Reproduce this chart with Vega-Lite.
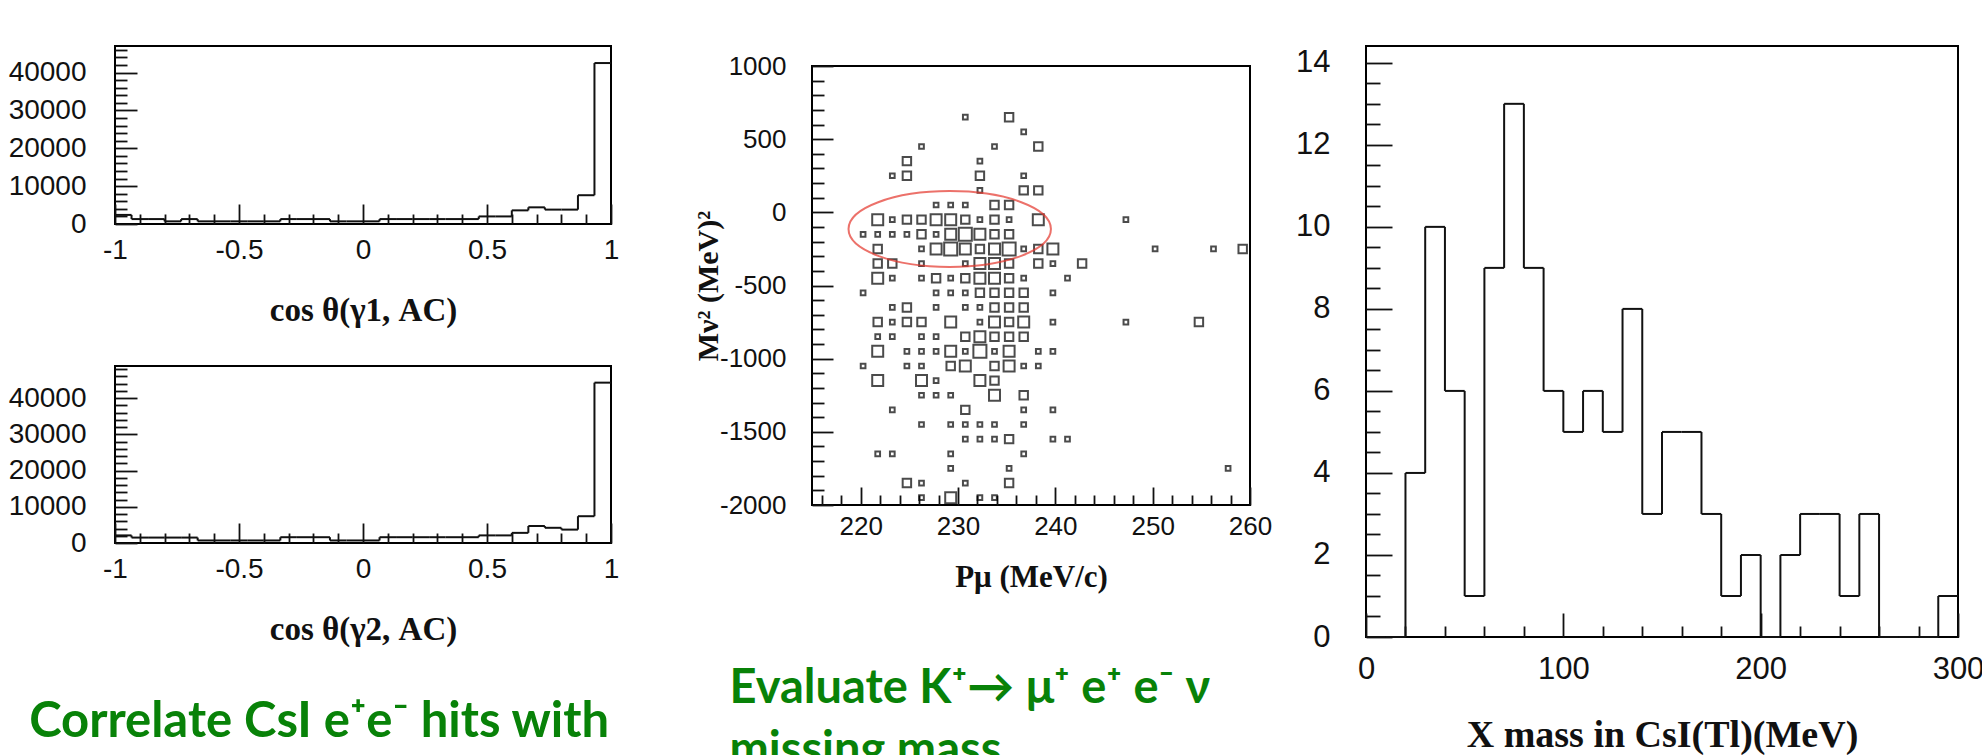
{
  "$schema": "https://vega.github.io/schema/vega-lite/v6.json",
  "background": "white",
  "padding": {"left": 7, "top": 45, "right": 0, "bottom": 0},
  "config": {
    "view": {"stroke": "#000", "strokeWidth": 2},
    "axis": {"domain": false, "grid": false, "labelFont": "Liberation Sans", "labelColor": "#111", "tickColor": "#111", "tickWidth": 1.8, "titleFont": "Liberation Serif", "titleFontWeight": "bold", "titleColor": "#111", "labelOverlap": false, "labelBound": false, "labelFlush": false, "tickCount": 200}
  },
  "datasets": {
    "cosbins": [
      {"x0": -1, "x1": -0.9333, "up": 2400, "low": 2100},
      {"x0": -0.9333, "x1": -0.8667, "up": 1300, "low": 1500},
      {"x0": -0.8667, "x1": -0.8, "up": 1300, "low": 1500},
      {"x0": -0.8, "x1": -0.7333, "up": 700, "low": 1500},
      {"x0": -0.7333, "x1": -0.6667, "up": 1300, "low": 1500},
      {"x0": -0.6667, "x1": -0.6, "up": 700, "low": 700},
      {"x0": -0.6, "x1": -0.5333, "up": 700, "low": 700},
      {"x0": -0.5333, "x1": -0.4667, "up": 700, "low": 700},
      {"x0": -0.4667, "x1": -0.4, "up": 700, "low": 700},
      {"x0": -0.4, "x1": -0.3333, "up": 700, "low": 700},
      {"x0": -0.3333, "x1": -0.2667, "up": 1300, "low": 1600},
      {"x0": -0.2667, "x1": -0.2, "up": 1300, "low": 1600},
      {"x0": -0.2, "x1": -0.1333, "up": 1300, "low": 1600},
      {"x0": -0.1333, "x1": -0.0667, "up": 700, "low": 700},
      {"x0": -0.0667, "x1": 0, "up": 700, "low": 700},
      {"x0": 0, "x1": 0.0667, "up": 700, "low": 700},
      {"x0": 0.0667, "x1": 0.1333, "up": 1300, "low": 1600},
      {"x0": 0.1333, "x1": 0.2, "up": 1300, "low": 1600},
      {"x0": 0.2, "x1": 0.2667, "up": 1300, "low": 1600},
      {"x0": 0.2667, "x1": 0.3333, "up": 1300, "low": 1600},
      {"x0": 0.3333, "x1": 0.4, "up": 1300, "low": 1600},
      {"x0": 0.4, "x1": 0.4667, "up": 1300, "low": 1600},
      {"x0": 0.4667, "x1": 0.5333, "up": 2000, "low": 2100},
      {"x0": 0.5333, "x1": 0.6, "up": 2000, "low": 2100},
      {"x0": 0.6, "x1": 0.6667, "up": 3600, "low": 2800},
      {"x0": 0.6667, "x1": 0.7333, "up": 4400, "low": 4700},
      {"x0": 0.7333, "x1": 0.8, "up": 3800, "low": 4200},
      {"x0": 0.8, "x1": 0.8667, "up": 3800, "low": 3700},
      {"x0": 0.8667, "x1": 0.9333, "up": 7600, "low": 7400},
      {"x0": 0.9333, "x1": 1, "up": 42500, "low": 44300}
    ],
    "mass": [
      {"x0": 0, "x1": 10, "count": 0}, {"x0": 10, "x1": 20, "count": 0}, {"x0": 20, "x1": 30, "count": 4},
      {"x0": 30, "x1": 40, "count": 10}, {"x0": 40, "x1": 50, "count": 6}, {"x0": 50, "x1": 60, "count": 1},
      {"x0": 60, "x1": 70, "count": 9}, {"x0": 70, "x1": 80, "count": 13}, {"x0": 80, "x1": 90, "count": 9},
      {"x0": 90, "x1": 100, "count": 6}, {"x0": 100, "x1": 110, "count": 5}, {"x0": 110, "x1": 120, "count": 6},
      {"x0": 120, "x1": 130, "count": 5}, {"x0": 130, "x1": 140, "count": 8}, {"x0": 140, "x1": 150, "count": 3},
      {"x0": 150, "x1": 160, "count": 5}, {"x0": 160, "x1": 170, "count": 5}, {"x0": 170, "x1": 180, "count": 3},
      {"x0": 180, "x1": 190, "count": 1}, {"x0": 190, "x1": 200, "count": 2}, {"x0": 200, "x1": 210, "count": 0},
      {"x0": 210, "x1": 220, "count": 2}, {"x0": 220, "x1": 230, "count": 3}, {"x0": 230, "x1": 240, "count": 3},
      {"x0": 240, "x1": 250, "count": 1}, {"x0": 250, "x1": 260, "count": 3}, {"x0": 260, "x1": 270, "count": 0},
      {"x0": 270, "x1": 280, "count": 0}, {"x0": 280, "x1": 290, "count": 0}, {"x0": 290, "x1": 300, "count": 1}
    ],
    "boxes": [
      {"p": 230.75, "m": 650, "n": 1}, {"p": 235.25, "m": 650, "n": 2},
      {"p": 236.75, "m": 550, "n": 1},
      {"p": 226.25, "m": 450, "n": 1}, {"p": 233.75, "m": 450, "n": 1}, {"p": 238.25, "m": 450, "n": 2},
      {"p": 224.75, "m": 350, "n": 2}, {"p": 232.25, "m": 350, "n": 1},
      {"p": 223.25, "m": 250, "n": 1}, {"p": 224.75, "m": 250, "n": 2}, {"p": 232.25, "m": 250, "n": 2}, {"p": 236.75, "m": 250, "n": 1},
      {"p": 232.25, "m": 150, "n": 1}, {"p": 236.75, "m": 150, "n": 2}, {"p": 238.25, "m": 150, "n": 2},
      {"p": 227.75, "m": 50, "n": 1}, {"p": 229.25, "m": 50, "n": 1}, {"p": 230.75, "m": 50, "n": 1}, {"p": 233.75, "m": 50, "n": 2}, {"p": 235.25, "m": 50, "n": 2},
      {"p": 221.75, "m": -50, "n": 3}, {"p": 223.25, "m": -50, "n": 1}, {"p": 224.75, "m": -50, "n": 2}, {"p": 226.25, "m": -50, "n": 2}, {"p": 227.75, "m": -50, "n": 3}, {"p": 229.25, "m": -50, "n": 3}, {"p": 230.75, "m": -50, "n": 2}, {"p": 232.25, "m": -50, "n": 1}, {"p": 233.75, "m": -50, "n": 2}, {"p": 235.25, "m": -50, "n": 1}, {"p": 238.25, "m": -50, "n": 3}, {"p": 247.25, "m": -50, "n": 1},
      {"p": 220.25, "m": -150, "n": 1}, {"p": 221.75, "m": -150, "n": 1}, {"p": 223.25, "m": -150, "n": 1}, {"p": 224.75, "m": -150, "n": 1}, {"p": 226.25, "m": -150, "n": 2}, {"p": 227.75, "m": -150, "n": 1}, {"p": 229.25, "m": -150, "n": 3}, {"p": 230.75, "m": -150, "n": 4}, {"p": 232.25, "m": -150, "n": 3}, {"p": 233.75, "m": -150, "n": 2}, {"p": 235.25, "m": -150, "n": 2},
      {"p": 221.75, "m": -250, "n": 2}, {"p": 226.25, "m": -250, "n": 1}, {"p": 227.75, "m": -250, "n": 3}, {"p": 229.25, "m": -250, "n": 4}, {"p": 230.75, "m": -250, "n": 3}, {"p": 232.25, "m": -250, "n": 2}, {"p": 233.75, "m": -250, "n": 3}, {"p": 235.25, "m": -250, "n": 4}, {"p": 236.75, "m": -250, "n": 1}, {"p": 238.25, "m": -250, "n": 2}, {"p": 239.75, "m": -250, "n": 3}, {"p": 250.25, "m": -250, "n": 1}, {"p": 256.25, "m": -250, "n": 1}, {"p": 259.25, "m": -250, "n": 2},
      {"p": 221.75, "m": -350, "n": 2}, {"p": 223.25, "m": -350, "n": 2}, {"p": 226.25, "m": -350, "n": 1}, {"p": 230.75, "m": -350, "n": 1}, {"p": 232.25, "m": -350, "n": 3}, {"p": 233.75, "m": -350, "n": 3}, {"p": 235.25, "m": -350, "n": 2}, {"p": 238.25, "m": -350, "n": 2}, {"p": 239.75, "m": -350, "n": 1}, {"p": 242.75, "m": -350, "n": 2},
      {"p": 221.75, "m": -450, "n": 3}, {"p": 223.25, "m": -450, "n": 1}, {"p": 226.25, "m": -450, "n": 1}, {"p": 227.75, "m": -450, "n": 2}, {"p": 229.25, "m": -450, "n": 1}, {"p": 230.75, "m": -450, "n": 2}, {"p": 232.25, "m": -450, "n": 3}, {"p": 233.75, "m": -450, "n": 3}, {"p": 235.25, "m": -450, "n": 2}, {"p": 236.75, "m": -450, "n": 1}, {"p": 241.25, "m": -450, "n": 1},
      {"p": 220.25, "m": -550, "n": 1}, {"p": 227.75, "m": -550, "n": 1}, {"p": 229.25, "m": -550, "n": 1}, {"p": 230.75, "m": -550, "n": 1}, {"p": 232.25, "m": -550, "n": 2}, {"p": 233.75, "m": -550, "n": 2}, {"p": 235.25, "m": -550, "n": 2}, {"p": 236.75, "m": -550, "n": 2}, {"p": 239.75, "m": -550, "n": 1},
      {"p": 223.25, "m": -650, "n": 1}, {"p": 224.75, "m": -650, "n": 2}, {"p": 227.75, "m": -650, "n": 1}, {"p": 230.75, "m": -650, "n": 1}, {"p": 232.25, "m": -650, "n": 1}, {"p": 233.75, "m": -650, "n": 2}, {"p": 235.25, "m": -650, "n": 2}, {"p": 236.75, "m": -650, "n": 2},
      {"p": 221.75, "m": -750, "n": 2}, {"p": 223.25, "m": -750, "n": 1}, {"p": 224.75, "m": -750, "n": 2}, {"p": 226.25, "m": -750, "n": 2}, {"p": 229.25, "m": -750, "n": 3}, {"p": 232.25, "m": -750, "n": 1}, {"p": 233.75, "m": -750, "n": 3}, {"p": 235.25, "m": -750, "n": 2}, {"p": 236.75, "m": -750, "n": 3}, {"p": 239.75, "m": -750, "n": 1}, {"p": 247.25, "m": -750, "n": 1}, {"p": 254.75, "m": -750, "n": 2},
      {"p": 221.75, "m": -850, "n": 1}, {"p": 223.25, "m": -850, "n": 1}, {"p": 226.25, "m": -850, "n": 1}, {"p": 227.75, "m": -850, "n": 1}, {"p": 230.75, "m": -850, "n": 2}, {"p": 232.25, "m": -850, "n": 3}, {"p": 233.75, "m": -850, "n": 2}, {"p": 235.25, "m": -850, "n": 2}, {"p": 236.75, "m": -850, "n": 2},
      {"p": 221.75, "m": -950, "n": 3}, {"p": 224.75, "m": -950, "n": 1}, {"p": 226.25, "m": -950, "n": 1}, {"p": 227.75, "m": -950, "n": 1}, {"p": 229.25, "m": -950, "n": 3}, {"p": 230.75, "m": -950, "n": 1}, {"p": 232.25, "m": -950, "n": 4}, {"p": 233.75, "m": -950, "n": 1}, {"p": 235.25, "m": -950, "n": 3}, {"p": 238.25, "m": -950, "n": 1}, {"p": 239.75, "m": -950, "n": 1},
      {"p": 220.25, "m": -1050, "n": 1}, {"p": 224.75, "m": -1050, "n": 1}, {"p": 226.25, "m": -1050, "n": 1}, {"p": 229.25, "m": -1050, "n": 2}, {"p": 230.75, "m": -1050, "n": 3}, {"p": 233.75, "m": -1050, "n": 2}, {"p": 235.25, "m": -1050, "n": 3}, {"p": 236.75, "m": -1050, "n": 1}, {"p": 238.25, "m": -1050, "n": 1},
      {"p": 221.75, "m": -1150, "n": 3}, {"p": 226.25, "m": -1150, "n": 3}, {"p": 227.75, "m": -1150, "n": 1}, {"p": 232.25, "m": -1150, "n": 3}, {"p": 233.75, "m": -1150, "n": 2},
      {"p": 226.25, "m": -1250, "n": 1}, {"p": 227.75, "m": -1250, "n": 1}, {"p": 229.25, "m": -1250, "n": 1}, {"p": 233.75, "m": -1250, "n": 3}, {"p": 236.75, "m": -1250, "n": 2},
      {"p": 223.25, "m": -1350, "n": 1}, {"p": 230.75, "m": -1350, "n": 2}, {"p": 236.75, "m": -1350, "n": 1}, {"p": 239.75, "m": -1350, "n": 1},
      {"p": 226.25, "m": -1450, "n": 1}, {"p": 229.25, "m": -1450, "n": 1}, {"p": 230.75, "m": -1450, "n": 1}, {"p": 232.25, "m": -1450, "n": 1}, {"p": 233.75, "m": -1450, "n": 1}, {"p": 236.75, "m": -1450, "n": 1},
      {"p": 230.75, "m": -1550, "n": 1}, {"p": 232.25, "m": -1550, "n": 1}, {"p": 233.75, "m": -1550, "n": 1}, {"p": 235.25, "m": -1550, "n": 2}, {"p": 239.75, "m": -1550, "n": 1}, {"p": 241.25, "m": -1550, "n": 1},
      {"p": 221.75, "m": -1650, "n": 1}, {"p": 223.25, "m": -1650, "n": 1}, {"p": 229.25, "m": -1650, "n": 1}, {"p": 236.75, "m": -1650, "n": 1},
      {"p": 229.25, "m": -1750, "n": 1}, {"p": 235.25, "m": -1750, "n": 1}, {"p": 257.75, "m": -1750, "n": 1},
      {"p": 224.75, "m": -1850, "n": 2}, {"p": 226.25, "m": -1850, "n": 1}, {"p": 230.75, "m": -1850, "n": 1}, {"p": 235.25, "m": -1850, "n": 2},
      {"p": 226.25, "m": -1950, "n": 1}, {"p": 229.25, "m": -1950, "n": 3}, {"p": 232.25, "m": -1950, "n": 1}, {"p": 233.75, "m": -1950, "n": 1}
    ]
  },
  "spacing": 72,
  "hconcat": [
    {
      "spacing": 37,
      "title": {"text": "Correlate CsI e⁺e⁻ hits with", "orient": "bottom", "anchor": "start", "frame": "bounds", "dx": 22, "offset": 51, "font": "Lato", "fontWeight": "bold", "fontSize": 49, "color": "#088208"},
      "vconcat": [
        {
          "width": 496, "height": 178,
          "data": {"name": "cosbins"},
          "encoding": {"x": {"field": "x0", "type": "quantitative", "title": "cos θ(γ1, AC)", "scale": {"domain": [-1, 1], "nice": false, "zero": false},
            "axis": {"values": [-1, -0.9, -0.8, -0.7, -0.6, -0.5, -0.4, -0.3, -0.2, -0.1, 0, 0.1, 0.2, 0.3, 0.4, 0.5, 0.6, 0.7, 0.8, 0.9, 1], "tickCount": 200,
              "labelExpr": "indexof([-1,-0.5,0,0.5,1], datum.value) >= 0 ? '' + datum.value : ''",
              "tickSize": {"condition": {"test": "indexof([-1,-0.5,0,0.5,1], datum.value) >= 0", "value": -20}, "value": -10},
              "labelFontSize": {"condition": {"test": "indexof([-1,-0.5,0,0.5,1], datum.value) >= 0", "value": 28}, "value": 0},
              "labelOverlap": false, "labelPadding": 32, "titleFontSize": 33, "titlePadding": 30}}},
          "layer": [
            {"mark": {"type": "rule", "color": "#111", "strokeWidth": 2},
              "encoding": {"x2": {"field": "x1"}, "y": {"field": "up", "type": "quantitative", "title": null, "scale": {"domain": [0, 47000], "nice": false},
                "axis": {"values": [0, 2000, 4000, 6000, 8000, 10000, 12000, 14000, 16000, 18000, 20000, 22000, 24000, 26000, 28000, 30000, 32000, 34000, 36000, 38000, 40000, 42000, 44000, 46000], "tickCount": 200,
                  "labelExpr": "datum.value % 10000 === 0 ? '' + datum.value : ''",
                  "tickSize": {"condition": {"test": "datum.value % 10000 === 0", "value": -22}, "value": -12},
                  "labelFontSize": {"condition": {"test": "datum.value % 10000 === 0", "value": 28}, "value": 0},
                  "labelOverlap": false, "labelPadding": 51}}}},
            {"transform": [{"window": [{"op": "lag", "field": "up", "as": "prev"}], "sort": [{"field": "x0"}]}, {"filter": "datum.prev != null"}],
              "mark": {"type": "rule", "color": "#111", "strokeWidth": 2},
              "encoding": {"y": {"field": "prev", "type": "quantitative", "title": null}, "y2": {"field": "up"}}},
            {"data": {"values": [{}]}, "mark": {"type": "rule", "color": "#f0190f", "strokeWidth": 2}, "encoding": {"x": {"datum": 0.8}}}
          ]
        },
        {
          "width": 496, "height": 177,
          "data": {"name": "cosbins"},
          "encoding": {"x": {"field": "x0", "type": "quantitative", "title": "cos θ(γ2, AC)", "scale": {"domain": [-1, 1], "nice": false, "zero": false},
            "axis": {"values": [-1, -0.9, -0.8, -0.7, -0.6, -0.5, -0.4, -0.3, -0.2, -0.1, 0, 0.1, 0.2, 0.3, 0.4, 0.5, 0.6, 0.7, 0.8, 0.9, 1], "tickCount": 200,
              "labelExpr": "indexof([-1,-0.5,0,0.5,1], datum.value) >= 0 ? '' + datum.value : ''",
              "tickSize": {"condition": {"test": "indexof([-1,-0.5,0,0.5,1], datum.value) >= 0", "value": -20}, "value": -10},
              "labelFontSize": {"condition": {"test": "indexof([-1,-0.5,0,0.5,1], datum.value) >= 0", "value": 28}, "value": 0},
              "labelOverlap": false, "labelPadding": 32, "titleFontSize": 33, "titlePadding": 30}}},
          "layer": [
            {"mark": {"type": "rule", "color": "#111", "strokeWidth": 2},
              "encoding": {"x2": {"field": "x1"}, "y": {"field": "low", "type": "quantitative", "title": null, "scale": {"domain": [0, 48900], "nice": false},
                "axis": {"values": [0, 2000, 4000, 6000, 8000, 10000, 12000, 14000, 16000, 18000, 20000, 22000, 24000, 26000, 28000, 30000, 32000, 34000, 36000, 38000, 40000, 42000, 44000, 46000, 48000], "tickCount": 200,
                  "labelExpr": "datum.value % 10000 === 0 ? '' + datum.value : ''",
                  "tickSize": {"condition": {"test": "datum.value % 10000 === 0", "value": -22}, "value": -12},
                  "labelFontSize": {"condition": {"test": "datum.value % 10000 === 0", "value": 28}, "value": 0},
                  "labelOverlap": false, "labelPadding": 51}}}},
            {"transform": [{"window": [{"op": "lag", "field": "low", "as": "prev"}], "sort": [{"field": "x0"}]}, {"filter": "datum.prev != null"}],
              "mark": {"type": "rule", "color": "#111", "strokeWidth": 2},
              "encoding": {"y": {"field": "prev", "type": "quantitative", "title": null}, "y2": {"field": "low"}}},
            {"data": {"values": [{}]}, "mark": {"type": "rule", "color": "#f0190f", "strokeWidth": 2}, "encoding": {"x": {"datum": 0.8}}}
          ]
        }
      ]
    },
    {
      "spacing": 21,
      "hconcat": [
        {
          "spacing": 5,
          "title": {"text": ["Evaluate K⁺→ μ⁺ e⁺ e⁻ ν", "missing mass"], "orient": "bottom", "anchor": "start", "frame": "bounds", "dx": 37, "offset": 73, "font": "Lato", "fontWeight": "bold", "fontSize": 47, "lineHeight": 62, "color": "#088208"},
          "vconcat": [
            {"width": 438, "height": 1, "data": {"values": []}, "mark": "point", "view": {"stroke": null}},
            {
              "width": 438, "height": 439,
              "layer": [
                {"data": {"name": "boxes"},
                  "mark": {"type": "square", "filled": false, "color": "#000", "strokeWidth": 2},
                  "encoding": {
                    "x": {"field": "p", "type": "quantitative", "title": "Pμ (MeV/c)", "scale": {"domain": [215, 260], "nice": false, "zero": false},
                      "axis": {"values": [216, 218, 220, 222, 224, 226, 228, 230, 232, 234, 236, 238, 240, 242, 244, 246, 248, 250, 252, 254, 256, 258, 260], "tickCount": 200,
                        "labelExpr": "datum.value % 10 === 0 ? '' + datum.value : ''",
                        "tickSize": {"condition": {"test": "datum.value % 10 === 0", "value": -18}, "value": -10},
                        "labelFontSize": {"condition": {"test": "datum.value % 10 === 0", "value": 26}, "value": 0},
                        "labelOverlap": false, "labelPadding": 26, "titleFontSize": 31, "titlePadding": 23}},
                    "y": {"field": "m", "type": "quantitative", "title": "Mν² (MeV)²", "scale": {"domain": [-2000, 1000], "nice": false, "zero": false},
                      "axis": {"values": [-2000, -1900, -1800, -1700, -1600, -1500, -1400, -1300, -1200, -1100, -1000, -900, -800, -700, -600, -500, -400, -300, -200, -100, 0, 100, 200, 300, 400, 500, 600, 700, 800, 900, 1000], "tickCount": 200,
                        "labelExpr": "datum.value % 500 === 0 ? '' + datum.value : ''",
                        "tickSize": {"condition": {"test": "datum.value % 500 === 0", "value": -21}, "value": -12},
                        "labelFontSize": {"condition": {"test": "datum.value % 500 === 0", "value": 26}, "value": 0},
                        "labelOverlap": false, "labelPadding": 47, "titleFontSize": 30, "titlePadding": -4}},
                    "size": {"field": "n", "type": "quantitative", "scale": {"domain": [1, 4], "range": [22, 170]}, "legend": null}
                  }},
                {"data": {"values": [{}]},
                  "mark": {"type": "point", "shape": "M-1,0A1,0.3745,0,1,1,1,0A1,0.3745,0,1,1,-1,0Z", "size": 40966, "filled": false, "color": "#e5362c", "strokeWidth": 2},
                  "encoding": {"x": {"datum": 229.15}, "y": {"datum": -114}}}
              ]
            }
          ]
        },
        {
          "width": 592, "height": 591,
          "data": {"name": "mass"},
          "encoding": {"x": {"field": "x0", "type": "quantitative", "title": "X mass in CsI(Tl)(MeV)", "scale": {"domain": [0, 300], "nice": false, "zero": false},
            "axis": {"values": [0, 20, 40, 60, 80, 100, 120, 140, 160, 180, 200, 220, 240, 260, 280, 300], "tickCount": 200,
              "labelExpr": "datum.value % 100 === 0 ? '' + datum.value : ''",
              "tickSize": {"condition": {"test": "datum.value % 100 === 0", "value": -24}, "value": -11},
              "labelFontSize": {"condition": {"test": "datum.value % 100 === 0", "value": 31}, "value": 0},
              "labelOverlap": false, "labelPadding": 41, "titleFontSize": 38, "titlePadding": 32}}},
          "layer": [
            {"mark": {"type": "rule", "color": "#111", "strokeWidth": 2},
              "encoding": {"x2": {"field": "x1"}, "y": {"field": "count", "type": "quantitative", "title": null, "scale": {"domain": [0, 14.41], "nice": false},
                "axis": {"values": [0, 0.5, 1, 1.5, 2, 2.5, 3, 3.5, 4, 4.5, 5, 5.5, 6, 6.5, 7, 7.5, 8, 8.5, 9, 9.5, 10, 10.5, 11, 11.5, 12, 12.5, 13, 13.5, 14], "tickCount": 200,
                  "labelExpr": "datum.value % 2 === 0 ? '' + datum.value : ''",
                  "tickSize": {"condition": {"test": "datum.value % 2 === 0", "value": -26}, "value": -14},
                  "labelFontSize": {"condition": {"test": "datum.value % 2 === 0", "value": 31}, "value": 0},
                  "labelOverlap": false, "labelPadding": 62}}}},
            {"transform": [{"window": [{"op": "lag", "field": "count", "as": "prev"}], "sort": [{"field": "x0"}]}, {"filter": "datum.prev != null"}],
              "mark": {"type": "rule", "color": "#111", "strokeWidth": 2},
              "encoding": {"y": {"field": "prev", "type": "quantitative", "title": null}, "y2": {"field": "count"}}}
          ]
        }
      ]
    }
  ]
}
